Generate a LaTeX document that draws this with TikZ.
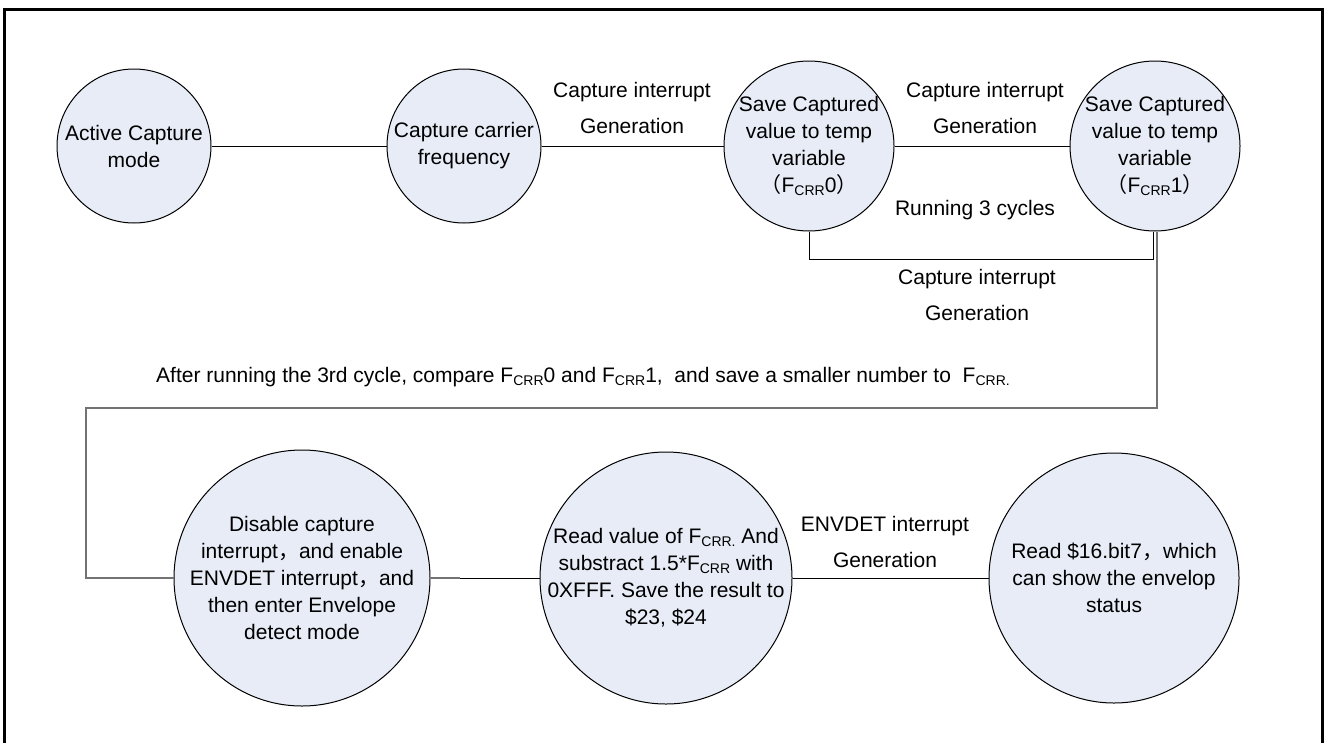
\documentclass[tikz,border=0pt]{standalone}
\usepackage{fontspec}
\setmainfont{Liberation Sans}
\newfontfamily\cjk{Noto Sans CJK SC}
\newcommand{\Fsub}[1]{F\raisebox{-3pt}{\fontsize{14}{14}\selectfont #1}}
\newcommand{\fw}[1]{{\cjk #1}}
\definecolor{cfill}{RGB}{231,236,246}
\begin{document}
\begin{tikzpicture}[x=1pt,y=-1pt,
  font=\fontsize{21}{27}\selectfont,
  st/.style={circle, draw=black, line width=1pt, fill=cfill, inner sep=0pt},
  txt/.style={align=center, inner sep=0pt},
  lbl/.style={align=center, inner sep=0pt, font=\fontsize{21}{36}\selectfont},
  con/.style={line width=1pt, black},
  gcon/.style={line width=2pt, color=black!55}]
\useasboundingbox (0,0) rectangle (1327,742);
\draw[line width=3pt] (4,760) -- (4,9) -- (1322,9) -- (1322,760);

\node[st, minimum size=154pt] (c1) at (134,146) {};
\node[txt] (c1t) at (c1) {Active Capture\\mode};
\node[st, minimum size=154pt] (c2) at (464,146) {};
\node[txt] (c2t) at (c2) {Capture carrier\\frequency};
\node[st, minimum size=170pt] (c3) at (809,146) {};
\node[txt] (c3t) at (c3) {Save Captured\\value to temp\\variable\\\fw{（}\Fsub{CRR}0\fw{）}};
\node[st, minimum size=170pt] (c4) at (1155,146) {};
\node[txt] (c4t) at (c4) {Save Captured\\value to temp\\variable\\\fw{（}\Fsub{CRR}1\fw{）}};

\node[st, minimum size=256pt] (c5) at (302,578) {};
\node[txt] (c5t) at (c5) {Disable capture\\interrupt\fw{，}and enable\\ENVDET interrupt\fw{，}and\\then enter Envelope\\detect mode};
\node[st, minimum size=252pt] (c6) at (666,578) {};
\node[txt] (c6t) at (c6) {Read value of \Fsub{CRR.} And\\substract 1.5*\Fsub{CRR} with\\0XFFF. Save the result to\\\$23, \$24};
\node[st, minimum size=250pt] (c7) at (1114,578) {};
\node[txt] (c7t) at (c7) {Read \$16.bit7\fw{，}which\\can show the envelop\\status};

\coordinate (l1) at (86,408);
\coordinate (m56) at (460,578);

\draw[con] (c1.east) -- (c2.west);
\draw[con] (c2.east) -- (c3.west);
\draw[con] (c3.east) -- (c4.west);
\draw[con] (c3.south) -- ++(0,28) -| ([xshift=-2pt]c4.south);
\draw[gcon] ([xshift=2pt]c4.south) |- (l1) |- (c5.west);
\draw[gcon] (c5.east) -- (m56);
\draw[con] (m56) -- (c6.west);
\draw[con] (c6.east) -- (c7.west);

\node[lbl] (L1) at (632,108) {Capture interrupt\\Generation};
\node[lbl] (L2) at (985,108) {Capture interrupt\\Generation};
\node[txt] (L3) at (975,210) {Running 3 cycles};
\node[lbl] (L4) at (977,295) {Capture interrupt\\Generation};
\node[lbl] (L5) at (885,542) {ENVDET interrupt\\Generation};
\node[txt] (L6) at (583,377) {After running the 3rd cycle, compare \Fsub{CRR}0 and \Fsub{CRR}1,~ and save a smaller number to~ \Fsub{CRR.}};
\end{tikzpicture}
\end{document}
